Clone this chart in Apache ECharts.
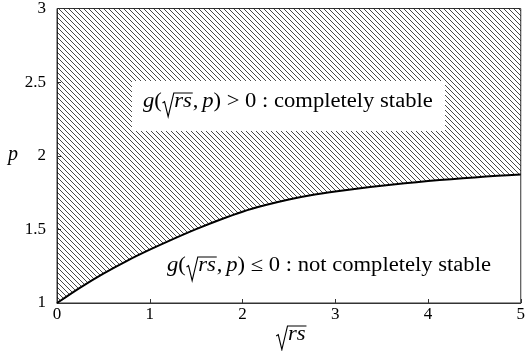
<!DOCTYPE html>
<html>
<head>
<meta charset="utf-8">
<script src="https://cdn.jsdelivr.net/npm/echarts@6/dist/echarts.min.js"></script>
<style>
  html, body { margin: 0; padding: 0; background: #fff; }
  #chart { width: 528px; height: 351px; }
</style>
</head>
<body>
<div id="chart"></div>
<script>
// Stability boundary g(sqrt(rs), p) = 0
const sqrtRs = [0, 0.25, 0.5, 0.75, 1.0, 1.25, 1.5, 1.75, 2.0, 2.25, 2.5,
                2.75, 3.0, 3.25, 3.5, 3.75, 4.0, 4.25, 4.5, 4.75, 5.0];
const pBoundary = [1.000, 1.105, 1.200, 1.285, 1.362, 1.434, 1.502, 1.564, 1.620, 1.665, 1.703,
                   1.733, 1.757, 1.778, 1.797, 1.813, 1.828, 1.841, 1.853, 1.864, 1.873];
const xTicks = [0, 1, 2, 3, 4, 5];
const yTicks = [1, 1.5, 2, 2.5, 3];
const stableText = ' > 0 : completely stable';
const unstableText = ' \u2264 0 : not completely stable';

const SERIF = '"Liberation Serif", "DejaVu Serif", serif';
const WIDEN = 1.13;   // horizontal stretch giving the wider book-face proportions

// diagonal hatch tile
function hatchTile(size) {
  const c = document.createElement('canvas');
  c.width = size; c.height = size;
  const g = c.getContext('2d');
  g.strokeStyle = 'rgba(0,0,0,0.8)';
  g.lineWidth = 0.9;
  [-size, 0, size].forEach(function (off) {
    g.beginPath();
    g.moveTo(-1, -1 + off);
    g.lineTo(size + 1, size + 1 + off);
    g.stroke();
  });
  return c;
}

const measureCtx = document.createElement('canvas').getContext('2d');
function textWidth(str, font) {
  measureCtx.font = font;
  return measureCtx.measureText(str).width;
}

// Builds a math-like label g(√rs, p)... as a group whose origin is the text baseline start
function mathLabel(size, tail) {
  const up = size + 'px ' + SERIF;
  const it = 'italic ' + size + 'px ' + SERIF;
  const mid = -0.14 * size;   // 'middle' anchor relative to the baseline
  const els = [];
  let x = 0;
  function txt(s, font) {
    els.push({ type: 'text', z: 110, style: { x: x, y: mid, text: s, font: font,
      fill: '#000', verticalAlign: 'middle', align: 'left' } });
    x += textWidth(s, font);
  }
  function radical(s) {
    const em = size;
    const w = textWidth(s, it);
    const rx = x + 0.03 * em;
    const topY = -0.6 * em;
    const startRad = rx + 0.5 * em;
    const endX = startRad + w + 0.06 * em;
    els.push({ type: 'polyline', z: 110, shape: { points: [
      [rx, -0.1 * em], [rx + 0.09 * em, -0.17 * em],
      [rx + 0.25 * em, 0.58 * em], [startRad, topY], [endX, topY]
    ] }, style: { stroke: '#000', lineWidth: 1.0, fill: null } });
    x = startRad + 0.02 * em;
    txt(s, it);
    x = endX;
  }
  if (tail === null) {
    radical('rs');
    return { els: els, width: x };
  }
  txt('g', it);
  txt('(', up);
  radical('rs');
  txt(',', up);
  x += 0.17 * size;
  txt('p', it);
  txt(')', up);
  txt(tail, up);
  return { els: els, width: x };
}

function placed(label, x, baseline) {
  return { type: 'group', x: x, y: baseline, scaleX: WIDEN, z: 110, children: label.els };
}

const chart = echarts.init(document.getElementById('chart'), null, { renderer: 'canvas' });

const upper = mathLabel(20, stableText);
const lower = mathLabel(20, unstableText);
const xName = mathLabel(20, null);

const graphics = [
  { type: 'rect', z: 105, shape: { x: 132, y: 81, width: 313, height: 50 },
    style: { fill: '#fff' } },
  placed(upper, 143, 105),
  placed(lower, 167, 269),
  placed(xName, 291 - xName.width * WIDEN / 2, 338),
  { type: 'text', z: 110, style: { x: 8, y: 158 - 0.14 * 20, text: 'p',
    font: 'italic 20px ' + SERIF, fill: '#000', verticalAlign: 'middle' } }
];

chart.setOption({
  animation: false,
  backgroundColor: '#fff',
  grid: { left: 57, right: 3, top: 6, bottom: 48, show: true,
          borderColor: '#333', borderWidth: 1, backgroundColor: 'transparent' },
  xAxis: {
    type: 'value', min: xTicks[0], max: xTicks[xTicks.length - 1], interval: 1,
    axisLine: { show: true, lineStyle: { color: '#333', width: 1 } },
    axisTick: { show: true, inside: true, length: 4, lineStyle: { color: '#333' } },
    splitLine: { show: false },
    axisLabel: { color: '#000', fontFamily: SERIF, fontSize: 17, margin: 3,
      formatter: function (v) { return xTicks.indexOf(v) >= 0 ? String(v) : ''; } }
  },
  yAxis: {
    type: 'value', min: yTicks[0], max: yTicks[yTicks.length - 1], interval: 0.5,
    axisLine: { show: true, lineStyle: { color: '#333', width: 1 } },
    axisTick: { show: true, inside: true, length: 4, lineStyle: { color: '#333' } },
    splitLine: { show: false },
    axisLabel: { color: '#000', fontFamily: SERIF, fontSize: 17, margin: 11,
      formatter: function (v) { return yTicks.indexOf(v) >= 0 ? String(v) : ''; } }
  },
  series: [{
    type: 'line',
    data: sqrtRs.map(function (x, i) { return [x, pBoundary[i]]; }),
    smooth: 0.3,
    showSymbol: false,
    lineStyle: { color: '#000', width: 2 },
    areaStyle: { origin: 'end', opacity: 1,
      color: { image: hatchTile(5), repeat: 'repeat' } },
    z: 2
  }],
  graphic: { elements: graphics }
});
</script>
</body>
</html>
